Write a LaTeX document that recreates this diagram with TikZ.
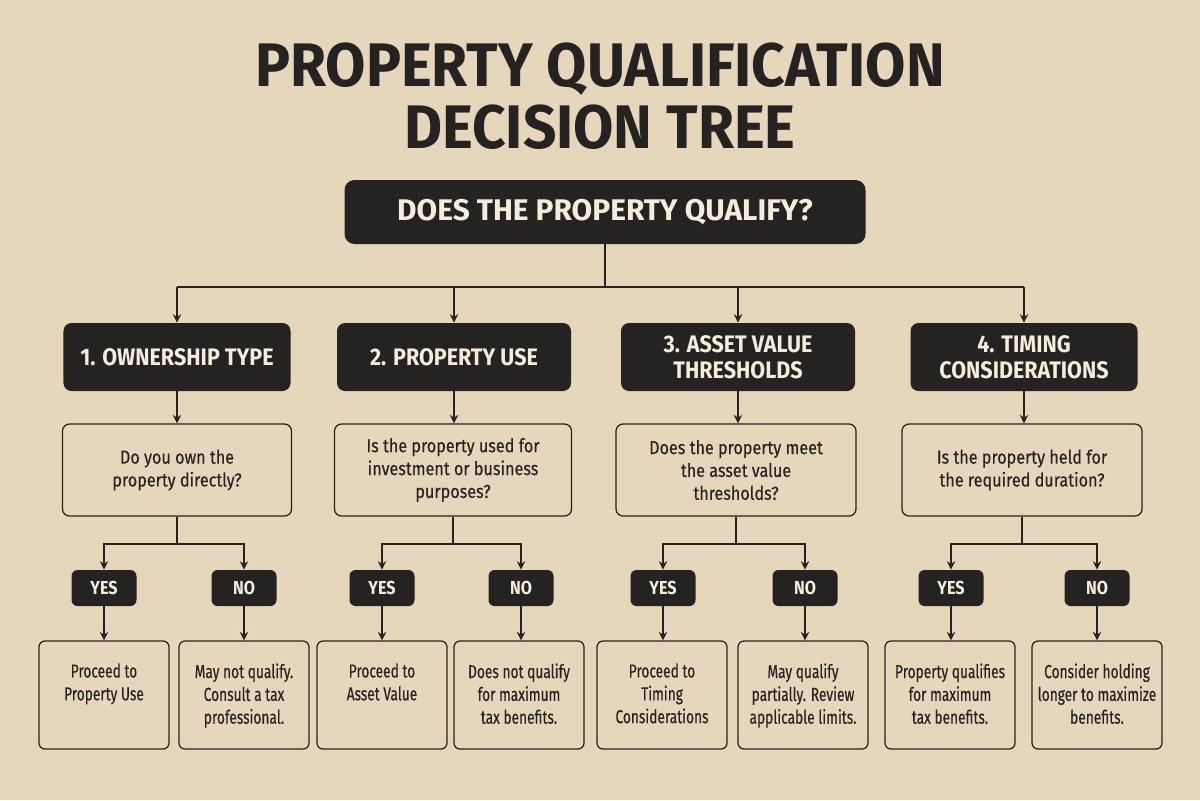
\documentclass[tikz,border=0pt]{standalone}
\usepackage{fontspec}
\setmainfont{Fira Sans}[FakeStretch=0.86]
\newfontfamily\titlefont{Fira Sans}[FakeStretch=0.95]
\newfontfamily\topfont{Fira Sans}[FakeStretch=1.0]
\newfontfamily\headfont{Fira Sans}[FakeStretch=0.9]
\newfontfamily\questfont{Fira Sans}[FakeStretch=0.86, FakeBold=0.25]
\newfontfamily\resfont{Fira Sans}[FakeStretch=0.73, FakeBold=0.25]
\usetikzlibrary{arrows.meta,positioning,calc}
\definecolor{paper}{HTML}{E6D6BC}
\definecolor{ink}{HTML}{252321}
\definecolor{cream}{HTML}{F4ECDC}
\newcommand{\restxt}[1]{\parbox[c][36pt][t]{25mm}{\centering #1}}
\tikzset{
  line/.style={draw=ink, line width=0.4mm},
  arr/.style={line, -{Stealth[length=1.7mm,width=1.7mm]}},
  title/.style={text=ink, align=center, font=\titlefont\bfseries\fontsize{35}{35}\selectfont},
  topbox/.style={fill=ink, text=cream, rounded corners=2mm, minimum width=104.2mm,
    minimum height=12.8mm, font=\topfont\bfseries\fontsize{17}{18}\selectfont},
  head/.style={fill=ink, text=cream, rounded corners=1.6mm, align=center,
    minimum height=13.6mm, font=\headfont\bfseries\fontsize{13.6}{14.8}\selectfont},
  quest/.style={draw=ink, line width=0.25mm, rounded corners=1.4mm, align=center,
    minimum height=18.4mm, text=ink, font=\questfont\fontsize{10.7}{13}\selectfont},
  pill/.style={fill=ink, text=cream, rounded corners=1.2mm, minimum width=13mm,
    minimum height=7.2mm, font=\bfseries\fontsize{10.7}{13}\selectfont},
  res/.style={draw=ink, line width=0.25mm, rounded corners=1.2mm, minimum width=25.6mm,
    minimum height=21.6mm, inner sep=0.5mm, text=ink, font=\resfont\fontsize{10.7}{13}\selectfont}
}
\begin{document}
\begin{tikzpicture}[x=0.2mm,y=-0.2mm]
  \fill[paper] (0,0) rectangle (1200,800);
  \useasboundingbox (0,0) rectangle (1200,800);

  \node[title] (title) at (600,96) {PROPERTY QUALIFICATION\\DECISION TREE};
  \node[topbox] (top) at (605,212) {DOES THE PROPERTY QUALIFY?};

  \node[head, minimum width=45.4mm] (c1) at (177,357) {1. OWNERSHIP TYPE};
  \node[head, minimum width=46.8mm] (c2) at (454,357) {2. PROPERTY USE};
  \node[head, minimum width=46.8mm] (c3) at (738,357) {3. ASSET VALUE\\THRESHOLDS};
  \node[head, minimum width=45.4mm] (c4) at (1024,357) {4. TIMING\\CONSIDERATIONS};

  \node[quest, minimum width=45.8mm] (q1) at (177,470) {Do you own the\\property directly?};
  \node[quest, minimum width=47.4mm] (q2) at (453,470) {Is the property used for\\investment or business\\purposes?};
  \node[quest, minimum width=48mm] (q3) at (736,470) {Does the property meet\\the asset value\\thresholds?};
  \node[quest, minimum width=48mm] (q4) at (1022,470) {Is the property held for\\the required duration?};

  \node[pill] (y1) at (104,588) {YES};
  \node[pill] (n1) at (244,588) {NO};
  \node[pill] (y2) at (382,588) {YES};
  \node[pill] (n2) at (521,588) {NO};
  \node[pill] (y3) at (663,588) {YES};
  \node[pill] (n3) at (805,588) {NO};
  \node[pill] (y4) at (951,588) {YES};
  \node[pill] (n4) at (1097,588) {NO};

  \node[res] (ry1) at (104,695) {\restxt{Proceed to\\Property Use}};
  \node[res] (rn1) at (244,695) {\restxt{May not qualify.\\Consult a tax\\professional.}};
  \node[res] (ry2) at (382,695) {\restxt{Proceed to\\Asset Value}};
  \node[res] (rn2) at (519,695) {\restxt{Does not qualify\\for maximum\\tax benefits.}};
  \node[res] (ry3) at (662,695) {\restxt{Proceed to\\Timing\\Considerations}};
  \node[res] (rn3) at (803,695) {\restxt{May qualify\\partially. Review\\applicable limits.}};
  \node[res] (ry4) at (950,695) {\restxt{Property qualifies\\for maximum\\tax benefits.}};
  \node[res] (rn4) at (1097,695) {\restxt{Consider holding\\longer to maximize\\benefits.}};

  \coordinate (bus) at ($(top.south)+(0,43)$);
  \draw[line] (top.south) -- (bus);
  \draw[line] (bus -| c1.north) -- (bus -| c4.north);
  \foreach \i in {1,...,4}{
    \draw[arr] (bus -| c\i.north) -- (c\i.north);
    \draw[arr] (c\i.south) -- (c\i.south |- q\i.north);
    \draw[line] (q\i.south) -- ++(0,27) coordinate (s\i);
    \draw[arr] (s\i) -| (y\i.north);
    \draw[arr] (s\i) -| (n\i.north);
    \draw[arr] (y\i.south) -- (y\i.south |- ry\i.north);
    \draw[arr] (n\i.south) -- (n\i.south |- rn\i.north);
  }
\end{tikzpicture}
\end{document}
